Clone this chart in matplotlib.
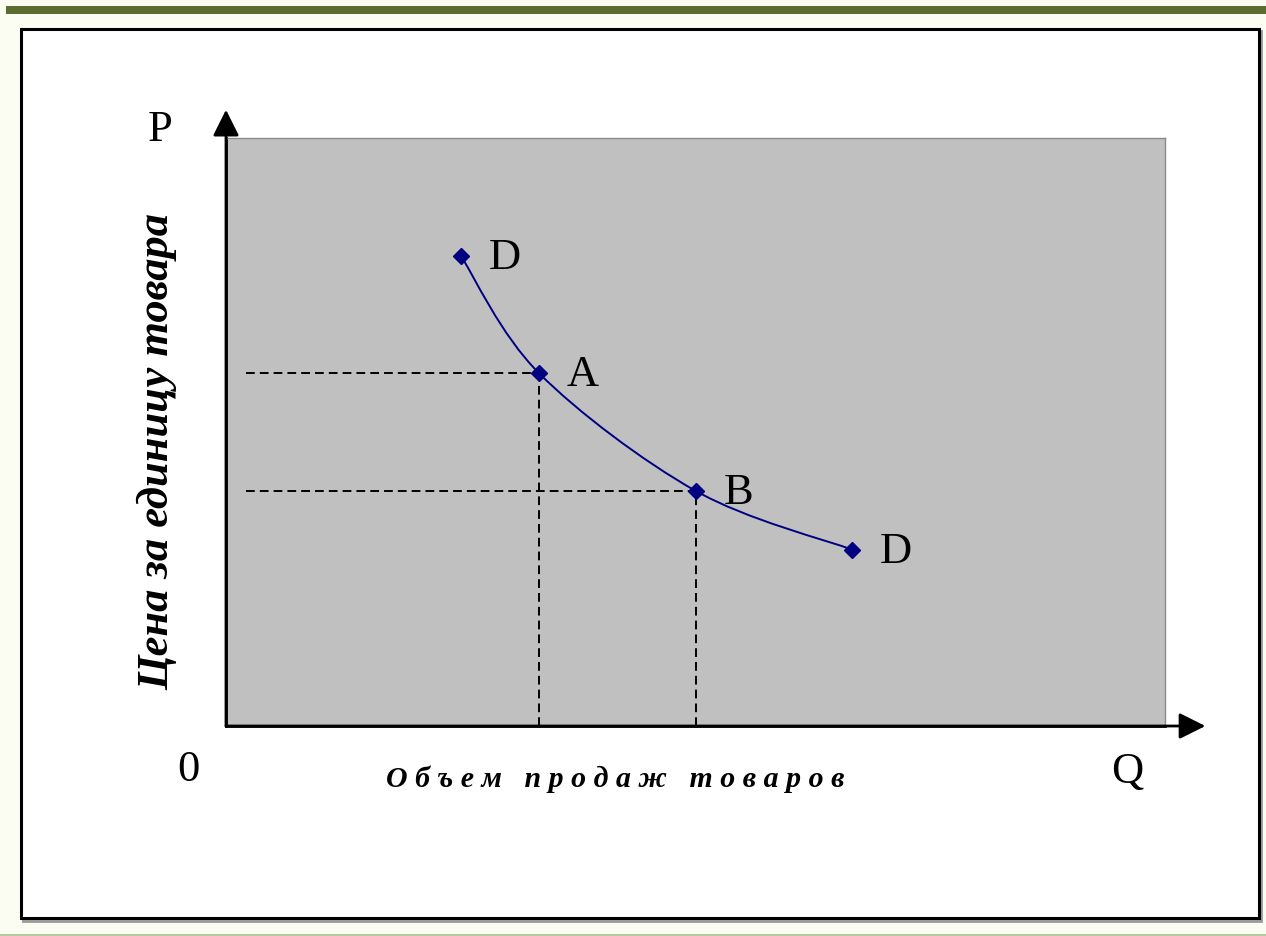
import matplotlib.pyplot as plt
from matplotlib.patches import Rectangle, PathPatch
from matplotlib.path import Path

# demand curve points (Q, P)
q = [1.5, 2.0, 3.0, 4.0]
p = [4.0, 3.0, 2.0, 1.5]
point_labels = ['D', 'A', 'B', 'D']
guide_idx = [1, 2]  # A and B get dashed guides

x_label = 'О б ъ е м   п р о д а ж   т о в а р о в'
y_label = 'Цена за единицу товара'

W, H = 1266, 936
fig = plt.figure(figsize=(W / 100, H / 100), dpi=100)
fig.patch.set_facecolor('#fcfdf2')


def fx(px):
    return px / W


def fy(py):
    return 1 - py / H


def bg_rect(x0, y0, x1, y1, **kw):
    r = Rectangle((fx(x0), fy(y1)), (x1 - x0) / W, (y1 - y0) / H,
                  transform=fig.transFigure, zorder=-5, **kw)
    fig.patches.append(r)


# green bar at the top and thin bottom line
bg_rect(6, 6, W, 14, facecolor='#5b6c30', edgecolor='none')
bg_rect(0, 934, W, H, facecolor='#b8c8a0', edgecolor='none')
# white framed panel with a soft shadow
bg_rect(23, 31, 1261, 921, facecolor='none', edgecolor='#9a9a9a', lw=2)
bg_rect(21, 29, 1259, 918, facecolor='white', edgecolor='black', lw=2.2)

ax = fig.add_axes([fx(226), fy(726), 939 / W, 588 / H])
ax.set_zorder(2)
ax.set_facecolor('#c0c0c0')
ax.set_xlim(0, 6)
ax.set_ylim(0, 5)
ax.set_xticks([])
ax.set_yticks([])
for side in ['top', 'right']:
    ax.spines[side].set_color('#8a8a8a')
    ax.spines[side].set_linewidth(1)
for side in ['left', 'bottom']:
    ax.spines[side].set_color('black')
    ax.spines[side].set_linewidth(2)

# axis arrows
arrow = dict(arrowstyle='-|>', color='black', lw=2, mutation_scale=40, shrinkA=0, shrinkB=0)
ax.annotate('', xy=(0, 1.048), xytext=(0, 0), xycoords='axes fraction',
            arrowprops=arrow, annotation_clip=False)
ax.annotate('', xy=(1.043, 0), xytext=(0, 0), xycoords='axes fraction',
            arrowprops=arrow, annotation_clip=False)

# dashed guides
for i in guide_idx:
    ax.plot([0.13, q[i]], [p[i], p[i]], color='black', lw=1.4, dashes=(4.5, 2.6), zorder=2)
    ax.plot([q[i], q[i]], [0, p[i]], color='black', lw=1.4, dashes=(4.5, 2.6), zorder=2)

# smoothed curve (Catmull-Rom as cubic Bezier through the data points)
pts = list(zip(q, p))
verts = [pts[0]]
codes = [Path.MOVETO]
for i in range(len(pts) - 1):
    p0 = pts[i - 1] if i > 0 else pts[i]
    p1, p2 = pts[i], pts[i + 1]
    p3 = pts[i + 2] if i + 2 < len(pts) else pts[i + 1]
    c1 = (p1[0] + (p2[0] - p0[0]) / 6, p1[1] + (p2[1] - p0[1]) / 6)
    c2 = (p2[0] - (p3[0] - p1[0]) / 6, p2[1] - (p3[1] - p1[1]) / 6)
    verts += [c1, c2, p2]
    codes += [Path.CURVE4] * 3
ax.add_patch(PathPatch(Path(verts, codes), facecolor='none', edgecolor='#000080',
                       lw=1.4, zorder=3))
ax.plot(q, p, linestyle='none', marker='D', markersize=8, color='#000080', zorder=4)

for xi, yi, lab in zip(q, p, point_labels):
    ax.annotate(lab, (xi, yi), xytext=(28, -2), textcoords='offset pixels',
                fontsize=32, family='Liberation Serif', va='center', ha='left', zorder=5)

# axis letters
fig.text(fx(160), fy(130), 'P', fontsize=32, family='Liberation Serif', ha='center', va='center')
fig.text(fx(188), fy(770), '0', fontsize=32, family='Liberation Serif', ha='center', va='center')
fig.text(fx(1127), fy(772), 'Q', fontsize=32, family='Liberation Serif', ha='center', va='center')

fig.text(fx(615), fy(779), x_label, fontsize=21.5, family='Liberation Serif',
         weight='bold', style='italic', ha='center', va='center')
fig.text(fx(157), fy(452), y_label, fontsize=32, family='Liberation Serif',
         weight='bold', style='italic', ha='center', va='center', rotation=90)

fig.savefig('out.png', dpi=100, facecolor=fig.get_facecolor())
